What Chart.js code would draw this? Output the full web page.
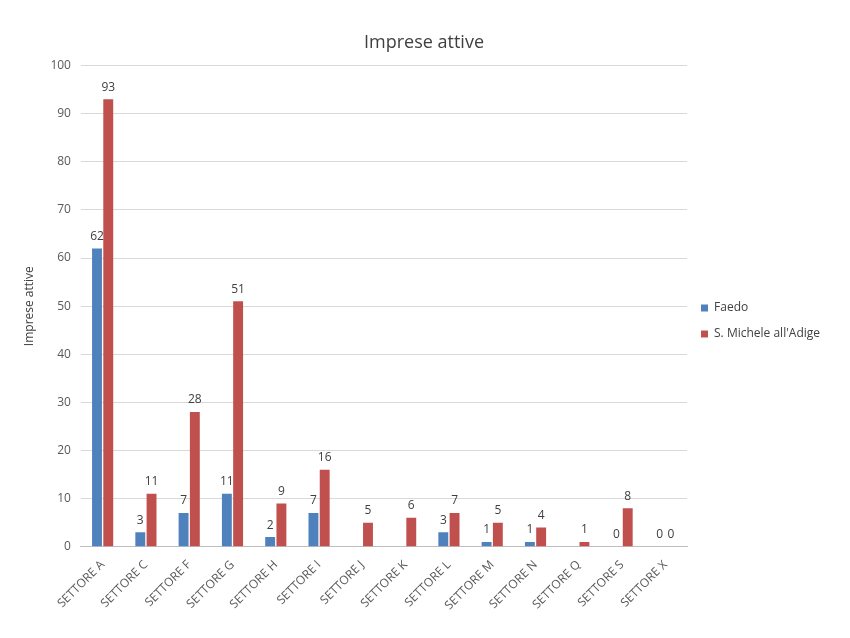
<!DOCTYPE html>
<html><head><meta charset="utf-8">
<script src="https://cdn.jsdelivr.net/npm/chart.js@4"></script>
<style>html,body{margin:0;padding:0;background:#fff}#w{width:850px;height:638px}</style>
</head><body><div id="w"><canvas id="c"></canvas></div>
<script>
const categories=["SETTORE A","SETTORE C","SETTORE F","SETTORE G","SETTORE H","SETTORE I","SETTORE J","SETTORE K","SETTORE L","SETTORE M","SETTORE N","SETTORE Q","SETTORE S","SETTORE X"];
const faedo=[62,3,7,11,2,7,null,null,3,1,1,null,0,0];
const sMichele=[93,11,28,51,9,16,5,6,7,5,4,1,8,0];
const yTicks=[0,10,20,30,40,50,60,70,80,90,100];
const font="'Open Sans', Calibri, sans-serif";
const labels={id:'lbl',afterDatasetsDraw(ch){const c=ch.ctx;c.save();c.font="12px "+font;c.fillStyle="#404040";c.textAlign="center";c.textBaseline="bottom";
ch.data.datasets.forEach((d,i)=>{ch.getDatasetMeta(i).data.forEach((b,j)=>{const v=d.data[j];if(v==null)return;c.fillText(String(v),b.x,b.y-6);});});c.restore();}};
new Chart(document.getElementById('c'),{type:'bar',
data:{labels:categories,datasets:[
{label:'Faedo',data:faedo,backgroundColor:'#4F81BD',categoryPercentage:0.52,barPercentage:0.88},
{label:"S. Michele all'Adige",data:sMichele,backgroundColor:'#C0504D',categoryPercentage:0.52,barPercentage:0.88}]},
options:{responsive:true,maintainAspectRatio:false,animation:false,
layout:{padding:{top:26,right:20,left:18,bottom:22}},
plugins:{title:{display:true,text:'Imprese attive',font:{family:font,size:18,weight:'normal'},color:'#404040',padding:{top:6,bottom:12}},
legend:{position:'right',labels:{usePointStyle:true,pointStyle:'rect',boxWidth:7,boxHeight:7,font:{family:font,size:12},color:'#404040',padding:14}},tooltip:{enabled:false}},
scales:{y:{min:0,max:100,afterBuildTicks(a){a.ticks=yTicks.map(v=>({value:v}));},
ticks:{font:{family:font,size:12},color:'#595959',padding:10},grid:{color:'#D9D9D9',drawTicks:false},border:{display:false},
title:{display:true,text:'Imprese attive',font:{family:font,size:12},color:'#404040'}},
x:{ticks:{font:{family:font,size:12},color:'#595959',maxRotation:45,minRotation:45},grid:{display:false},border:{color:'#BFBFBF'}}}},
plugins:[labels]});
</script></body></html>
